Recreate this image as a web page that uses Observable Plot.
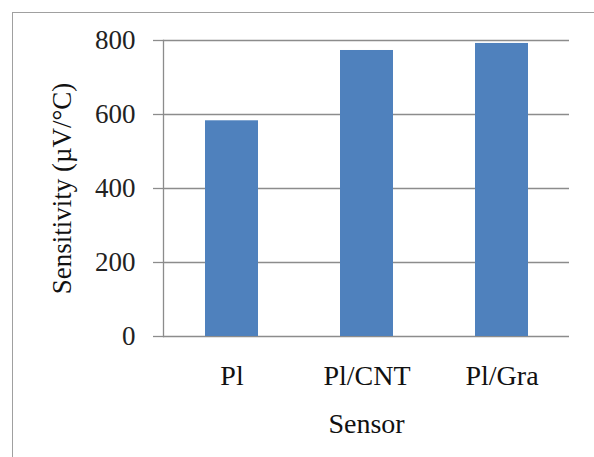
<!DOCTYPE html>
<html>
<head>
<meta charset="utf-8">
<script src="https://cdn.jsdelivr.net/npm/d3@7"></script>
<script src="https://cdn.jsdelivr.net/npm/@observablehq/plot@0.6"></script>
<style>
  html, body { margin: 0; padding: 0; background: #fff; }
  #wrap { position: relative; width: 594px; height: 457px; overflow: hidden; }
  #border { position: absolute; left: 12px; top: 12px; width: 700px; height: 700px;
            border-left: 1.5px solid #a0a0a0; border-top: 1.5px solid #a0a0a0; box-sizing: border-box; }
  #chart { position: absolute; left: 0; top: 0; }
</style>
</head>
<body>
<div id="wrap"><div id="border"></div><div id="chart"></div></div>
<script>
const sensors = ["Pl", "Pl/CNT", "Pl/Gra"];
const sensitivity = [583, 773, 792];
const yTicks = [0, 200, 400, 600, 800];
const xLabel = "Sensor";
const yLabel = "Sensitivity (\u00B5V/\u00B0C)";

const data = sensors.map((s, i) => ({sensor: s, value: sensitivity[i]}));
const font = "Liberation Serif, Times New Roman, serif";

const chart = Plot.plot({
  width: 594,
  height: 457,
  marginLeft: 163,
  marginRight: 25,
  marginTop: 40,
  marginBottom: 121,
  style: {fontFamily: font, fontSize: "27px", color: "#1a1a1a", background: "transparent"},
  x: {domain: sensors, paddingInner: 0.61, paddingOuter: 0.305, label: null},
  y: {domain: [0, 800], label: null},
  marks: [
    Plot.gridY(yTicks, {stroke: "#8c8c8c", strokeOpacity: 1, strokeWidth: 1.3}),
    Plot.axisY(yTicks, {tickSize: 10, tickPadding: 18, stroke: "#8c8c8c", strokeWidth: 1.3, fill: "#222", label: null, fontSize: 27}),
    Plot.axisX({tickSize: 0, tickPadding: 29, fill: "#111", label: null, fontSize: 28}),
    Plot.barY(data, {x: "sensor", y: "value", fill: "#4F81BD"}),
    Plot.frame({anchor: "left", stroke: "#8c8c8c", strokeWidth: 1.3}),
    Plot.text([xLabel], {frameAnchor: "bottom", dy: 96, lineAnchor: "bottom", textAnchor: "middle", fontSize: 28, fill: "#111"}),
    Plot.text([yLabel], {frameAnchor: "left", dx: -101, rotate: -90, lineAnchor: "middle", textAnchor: "middle", fontSize: 27, fill: "#111"})
  ]
});
document.getElementById("chart").appendChild(chart);
</script>
</body>
</html>
